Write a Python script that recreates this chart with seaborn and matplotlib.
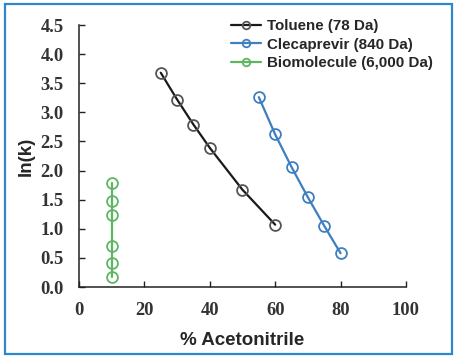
import pandas as pd
import matplotlib
matplotlib.use('Agg')
import matplotlib.pyplot as plt
import seaborn as sns
from matplotlib.patches import Rectangle

# Datos
toluene_x = [25, 30, 35, 40, 50, 60]
toluene_y = [3.68, 3.22, 2.79, 2.39, 1.67, 1.07]
clecaprevir_x = [55, 60, 65, 70, 75, 80]
clecaprevir_y = [3.26, 2.62, 2.06, 1.54, 1.05, 0.58]
bio_x = [10, 10, 10, 10, 10, 10]
bio_y = [1.79, 1.48, 1.24, 0.71, 0.42, 0.18]

labels = ['Toluene (78 Da)', 'Clecaprevir (840 Da)', 'Biomolecule (6,000 Da)']
line_colors = ['#1a1a1a', '#3d7fc1', '#5cb662']
edge_colors = ['#555555', '#3d7fc1', '#5cb662']

x_ticks = [0, 20, 40, 60, 80, 100]
y_ticks = [0.0, 0.5, 1.0, 1.5, 2.0, 2.5, 3.0, 3.5, 4.0, 4.5]

df = pd.concat([
    pd.DataFrame({'x': toluene_x, 'y': toluene_y, 'serie': labels[0]}),
    pd.DataFrame({'x': clecaprevir_x, 'y': clecaprevir_y, 'serie': labels[1]}),
    pd.DataFrame({'x': bio_x, 'y': bio_y, 'serie': labels[2]}),
])

sns.set_style('white')
plt.rcParams['font.family'] = ['Liberation Sans', 'DejaVu Sans']

fig = plt.figure(figsize=(4.56, 3.58), dpi=100)
ax = fig.add_axes([79 / 456, 1 - 287 / 358, (406 - 79) / 456, (287 - 25) / 358])

for lab, lc, ec in zip(labels, line_colors, edge_colors):
    sub = df[df['serie'] == lab]
    sns.lineplot(data=sub, x='x', y='y', ax=ax, color=lc, linewidth=1.6,
                 sort=False, estimator=None, marker='o', markersize=7.8,
                 markerfacecolor='none', markeredgecolor=ec,
                 markeredgewidth=1.3, label=lab)

ax.set_xlim(0, 100)
ax.set_ylim(0, 4.5)
ax.set_xticks(x_ticks)
ax.set_yticks(y_ticks)
ax.set_xticklabels([str(t) for t in x_ticks])
ax.set_yticklabels([f'{t:.1f}' for t in y_ticks])
for t in ax.get_xticklabels() + ax.get_yticklabels():
    t.set_fontfamily('Liberation Serif')
    t.set_fontweight('bold')
    t.set_fontsize(13.3)
    t.set_color('#333333')
ax.tick_params(direction='in', length=4, width=1, color='#222222', pad=11,
               left=True, bottom=True)

for s in ['top', 'right']:
    ax.spines[s].set_visible(False)
for s in ['left', 'bottom']:
    ax.spines[s].set_color('#222222')
    ax.spines[s].set_linewidth(1.1)

ax.set_xlabel('% Acetonitrile', fontsize=13.5, fontweight='bold', labelpad=9)
ax.set_ylabel('ln(k)', fontsize=13.5, fontweight='bold', labelpad=4)

leg = ax.legend(loc='upper left', bbox_to_anchor=(231 / 456, 1 - 19 / 358),
                bbox_transform=fig.transFigure, frameon=False,
                prop={'weight': 'bold', 'size': 10.9}, markerscale=0.7,
                handlelength=2.0, handletextpad=0.35, labelspacing=0.3,
                borderpad=0, borderaxespad=0)

# Marco azul alrededor de la figura
fig.patches.append(Rectangle((5 / 456, 4 / 358), 447 / 456, 350 / 358,
                             transform=fig.transFigure, fill=False,
                             edgecolor='#2b88cf', linewidth=1.6))

fig.savefig('out.png', dpi=100)
